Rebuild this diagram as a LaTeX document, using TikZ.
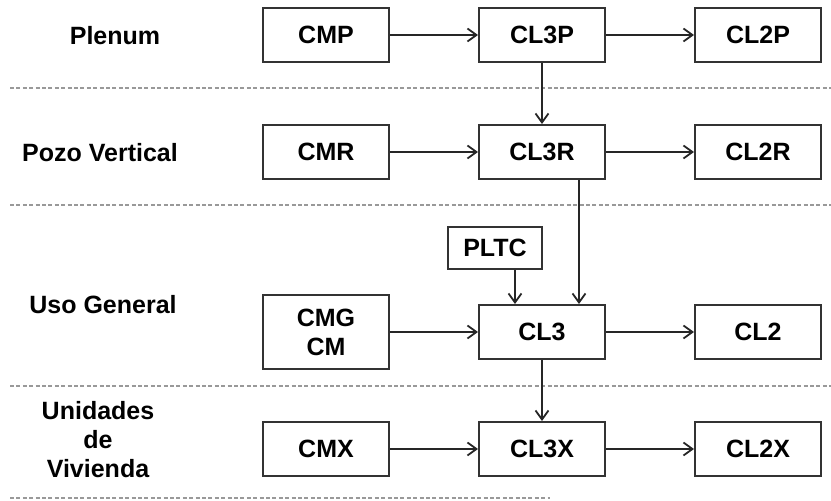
\documentclass[tikz,border=0pt]{standalone}
\usepackage{fontspec}
\setmainfont{Liberation Sans}
\usetikzlibrary{arrows.meta}

\begin{document}
\begin{tikzpicture}[x=0.5pt,y=-0.5pt,
		bloque/.style={draw=black!80, line width=1pt, minimum width=63pt, minimum height=27pt, inner sep=0pt, align=center, font=\fontsize{12.5}{14.5}\selectfont\bfseries},
		etiqueta/.style={align=center, font=\fontsize{12.5}{14.5}\selectfont\bfseries},
		flecha/.style={draw=black!85, line width=0.9pt, -{Straight Barb[length=4.5pt,width=6.5pt]}},
		division/.style={draw=black!40, line width=0.8pt, dash pattern=on 2pt off 1.2pt}]
	
		\useasboundingbox (0,0) rectangle (831,501);
		
		% separaciones
		\draw[division] (10,88) -- (831,88);
		\draw[division] (10,205) -- (831,205);
		\draw[division] (10,386) -- (831,386);
		\draw[division] (10,498) -- (550,498);
		
		% etiquetas de zona
		\node[etiqueta] (lplenum) at (115,36) {Plenum};
		\node[etiqueta] (lpozo) at (100,153) {Pozo Vertical};
		\node[etiqueta] (luso) at (103,305) {Uso General};
		\node[etiqueta] (lviv) at (98,440) {Unidades\\de\\Vivienda};
		
		% bloques
		\node[bloque] (cmp) at (326,35) {CMP};
		\node[bloque] (cl3p) at (542,35) {CL3P};
		\node[bloque] (cl2p) at (758,35) {CL2P};
		
		\node[bloque] (cmr) at (326,152) {CMR};
		\node[bloque] (cl3r) at (542,152) {CL3R};
		\node[bloque] (cl2r) at (758,152) {CL2R};
		
		\node[bloque, minimum width=47pt, minimum height=21pt] (pltc) at (495,248) {PLTC};
		\node[bloque, minimum height=37pt] (cmg) at (326,332) {CMG\\CM};
		\node[bloque] (cl3) at (542,332) {CL3};
		\node[bloque] (cl2) at (758,332) {CL2};
		
		\node[bloque] (cmx) at (326,449) {CMX};
		\node[bloque] (cl3x) at (542,449) {CL3X};
		\node[bloque] (cl2x) at (758,449) {CL2X};
		
		% conexiones
		\draw[flecha] (cmp) -- (cl3p);
		\draw[flecha] (cl3p) -- (cl2p);
		\draw[flecha] (cl3p) -- (cl3r);
		\draw[flecha] (cmr) -- (cl3r);
		\draw[flecha] (cl3r) -- (cl2r);
		\draw[flecha] ([xshift=-13.5pt]cl3r.south east) -- ([xshift=-13.5pt]cl3.north east);
		\draw[flecha] ([xshift=10pt]pltc.south) -- ([xshift=10pt]pltc.south |- cl3.north);
		\draw[flecha] (cmg) -- (cl3);
		\draw[flecha] (cl3) -- (cl2);
		\draw[flecha] (cl3) -- (cl3x);
		\draw[flecha] (cmx) -- (cl3x);
		\draw[flecha] (cl3x) -- (cl2x);
	\end{tikzpicture}
\end{document}
